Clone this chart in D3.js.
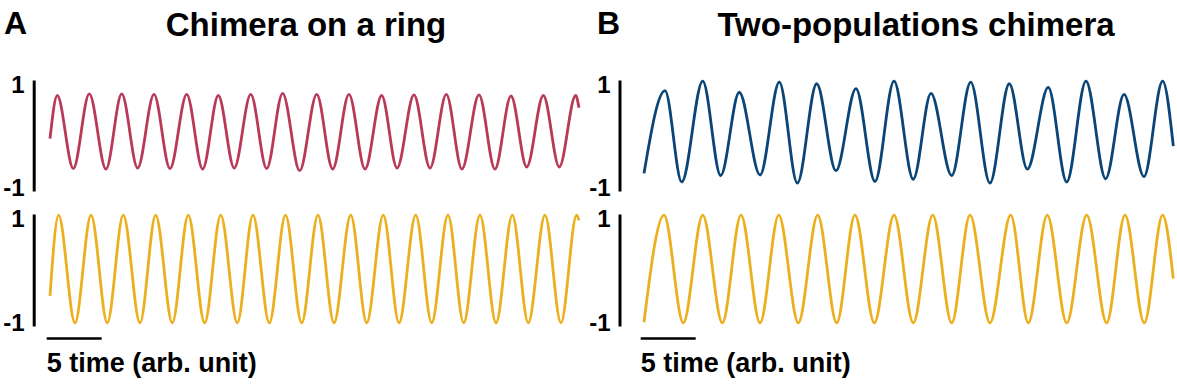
<!DOCTYPE html>
<html>
<head>
<meta charset="utf-8">
<script src="https://cdn.jsdelivr.net/npm/d3@7"></script>
<style>
  body { margin: 0; background: #fff; }
  svg { display: block; }
  text { font-family: "Liberation Sans", Arial, Helvetica, sans-serif; font-weight: bold; fill: #000; }
</style>
</head>
<body>
<div id="chart"></div>
<script>
// time (arb. unit) and value at the start, each peak / trough, and the end of each trace
const ringTopT = [0, 0.66, 2.12, 3.57, 5.09, 6.52, 7.97, 9.45, 10.91, 12.43, 13.88, 15.30, 16.75, 18.25, 19.70, 21.15, 22.70, 24.25, 25.70, 27.18, 28.64, 30.15, 31.55, 33.09, 34.55, 36.03, 37.45, 39.0, 40.45, 41.91, 43.34, 44.85, 46.3, 47.79, 48.09];
const ringTopV = [-0.08, 0.73, -0.64, 0.76, -0.65, 0.76, -0.63, 0.75, -0.64, 0.75, -0.65, 0.73, -0.63, 0.75, -0.64, 0.77, -0.68, 0.75, -0.65, 0.75, -0.65, 0.73, -0.63, 0.74, -0.63, 0.75, -0.65, 0.74, -0.65, 0.72, -0.61, 0.73, -0.61, 0.73, 0.5];

const ringBotT = [0, 0.78, 2.27, 3.73, 5.21, 6.66, 8.18, 9.61, 11.12, 12.57, 14.06, 15.52, 17.03, 18.45, 19.94, 21.41, 22.88, 24.36, 25.82, 27.34, 28.79, 30.3, 31.73, 33.25, 34.7, 36.18, 37.61, 39.09, 40.55, 42.03, 43.48, 45.0, 46.45, 47.88, 48.09];
const ringBotV = [-0.5, 1, -1, 1, -1, 1, -1, 1, -1, 1, -1, 1, -1, 1, -1, 1, -1, 1, -1, 1, -1, 1, -1, 1, -1, 1, -1, 1, -1, 1, -1, 1, -1, 1, 0.9];

const twoTopT = [0, 1.91, 3.43, 5.34, 6.97, 8.66, 10.55, 12.30, 13.94, 15.70, 17.45, 19.27, 21.0, 22.73, 24.48, 26.09, 27.97, 29.70, 31.45, 33.21, 34.85, 36.75, 38.43, 40.18, 41.97, 43.64, 45.45, 47.15, 48.12];
const twoTopV = [-0.73, 0.82, -0.89, 1.0, -0.77, 0.79, -0.76, 0.98, -0.91, 0.95, -0.68, 0.86, -0.88, 1.0, -0.84, 0.77, -0.77, 0.98, -0.91, 0.95, -0.65, 0.88, -0.89, 1.0, -0.83, 0.75, -0.79, 1.0, -0.22];

const twoBotT = [0, 1.82, 3.57, 5.34, 7.12, 8.82, 10.55, 12.25, 14.03, 15.79, 17.52, 19.18, 20.94, 22.73, 24.48, 26.25, 27.97, 29.64, 31.45, 33.34, 34.94, 36.66, 38.43, 40.25, 42.06, 43.73, 45.48, 47.15, 48.12];
const twoBotV = [-0.99, 1, -1, 1, -1, 1, -1, 1, -1, 1, -1, 1, -1, 1, -1, 1, -1, 1, -1, 1, -1, 1, -1, 1, -1, 1, -1, 1, -0.18];

const panelLetters = ["A", "B"];
const panelTitles = ["Chimera on a ring", "Two-populations chimera"];
const yTickValues = [1, -1];
const scaleBarLength = 5;
const scaleBarLabel = "5 time (arb. unit)";

const width = 1177;
const height = 384;

const red = "#b93a57";
const blue = "#0a4577";
const yellow = "#ecb01e";

const svg = d3.select("#chart").append("svg").attr("width", width).attr("height", height);

const panels = [
	{ left: 50, axisX: 33.7, letterX: 4, titleX: 306, top: { t: ringTopT, v: ringTopV, color: red }, bot: { t: ringBotT, v: ringBotV, color: yellow } },
	{ left: 644, axisX: 619.5, letterX: 597, titleX: 916, top: { t: twoTopT, v: twoTopV, color: blue }, bot: { t: twoBotT, v: twoBotV, color: yellow } },
];

const rows = [
	{ key: "top", range: [191, 80] },
	{ key: "bot", range: [326, 214] },
];

panels.forEach(function (p, i) {
	const xScale = d3.scaleLinear().domain([0, 48.12]).range([p.left, p.left + 529.3]);

	svg.append("text").attr("x", p.letterX).attr("y", 34).attr("font-size", 32).text(panelLetters[i]);
	svg.append("text").attr("x", p.titleX).attr("y", 36).attr("font-size", 33).attr("text-anchor", "middle").text(panelTitles[i]);

	rows.forEach(function (r) {
		const yScale = d3.scaleLinear().domain([-1.06, 1.02]).range(r.range);
		const s = p[r.key];
		const pts = s.t.map((t, k) => [t, s.v[k]]);

		const line = d3
			.line()
			.x((d) => xScale(d[0]))
			.y((d) => yScale(d[1]))
			.curve(d3.curveMonotoneX);

		svg.append("path").datum(pts).attr("d", line).attr("fill", "none").attr("stroke", s.color).attr("stroke-width", 2.8);

		const yAxis = svg
			.append("g")
			.attr("transform", `translate(${p.axisX}, 0)`)
			.call(d3.axisLeft(yScale).tickValues([]).tickSizeOuter(0));
		yAxis.select(".domain").attr("stroke", "#000").attr("stroke-width", 3);

		yTickValues.forEach(function (v) {
			svg
				.append("text")
				.attr("x", p.axisX - 9)
				.attr("y", yScale(v) + (v > 0 ? 12 : 8))
				.attr("text-anchor", "end")
				.attr("font-size", 24)
				.text(v);
		});
	});

	// scale bar
	svg
		.append("line")
		.attr("x1", xScale(-0.3))
		.attr("x2", xScale(-0.3 + scaleBarLength))
		.attr("y1", 338.5)
		.attr("y2", 338.5)
		.attr("stroke", "#000")
		.attr("stroke-width", 2.7);

	svg
		.append("text")
		.attr("x", xScale(-0.3))
		.attr("y", 372)
		.attr("font-size", 27)
		.text(scaleBarLabel);
});
</script>
</body>
</html>
